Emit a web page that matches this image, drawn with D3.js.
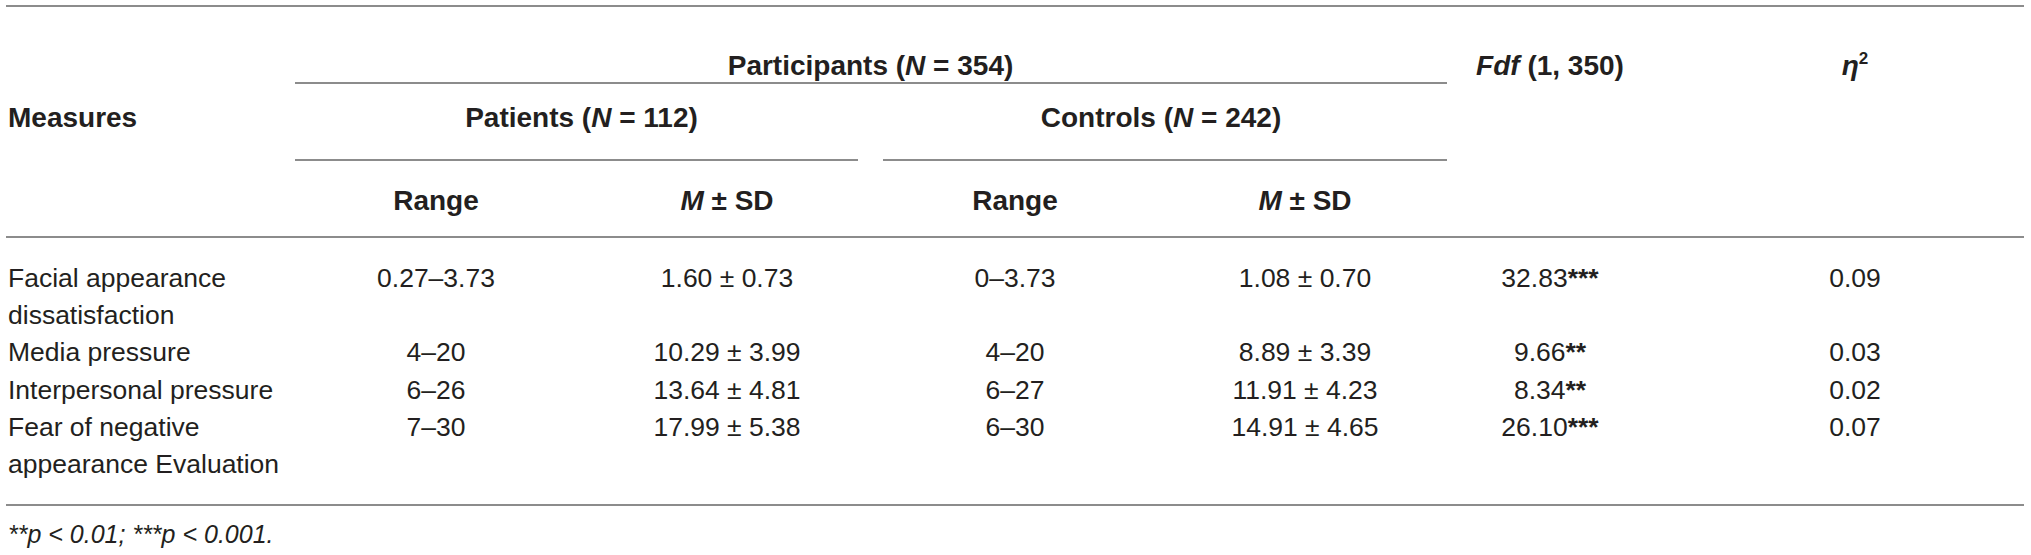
<!DOCTYPE html>
<html>
<head>
<meta charset="utf-8">
<script src="https://cdn.jsdelivr.net/npm/d3@7"></script>
<style>
  body { margin: 0; background: #fff; }
  text { font-family: "Liberation Sans", Arial, Helvetica, sans-serif; fill: #231f20; }
</style>
</head>
<body>
<script>
// table data
const measures = [
    ["Facial appearance", "dissatisfaction"],
    ["Media pressure"],
    ["Interpersonal pressure"],
    ["Fear of negative", "appearance Evaluation"]
];
const patientRange = ["0.27–3.73", "4–20", "6–26", "7–30"];
const patientMean = [1.60, 10.29, 13.64, 17.99];
const patientSD = [0.73, 3.99, 4.81, 5.38];
const controlRange = ["0–3.73", "4–20", "6–27", "6–30"];
const controlMean = [1.08, 8.89, 11.91, 14.91];
const controlSD = [0.70, 3.39, 4.23, 4.65];
const fValues = [32.83, 9.66, 8.34, 26.10];
const fStars = ["***", "**", "**", "***"];
const etaSq = [0.09, 0.03, 0.02, 0.07];

const columns = ["pRange", "pMean", "cRange", "cMean", "f", "eta"];

const width = 2031, height = 555;
const f2 = d3.format(".2f");

const svg = d3.select("body").append("svg")
    .attr("width", width)
    .attr("height", height);

// column centres
const x = d3.scaleOrdinal()
    .domain(columns)
    .range([436, 727, 1015, 1305, 1550, 1855]);
const step = 290;

// body lines (each measure may take two lines)
const lineH = 37.2;
const y = d3.scaleLinear()
    .domain([0, 1])
    .range([287, 287 + lineH]);

let lineIdx = 0;
const rows = measures.map((m, i) => {
    const r = {
        name: m,
        line: lineIdx,
        pRange: patientRange[i],
        pMean: f2(patientMean[i]) + " ± " + f2(patientSD[i]),
        cRange: controlRange[i],
        cMean: f2(controlMean[i]) + " ± " + f2(controlSD[i]),
        f: f2(fValues[i]),
        stars: fStars[i],
        eta: f2(etaSq[i])
    };
    lineIdx += m.length;
    return r;
});

// rules
const rule = (x1, x2, yy) => svg.append("line")
    .attr("x1", x1).attr("x2", x2)
    .attr("y1", yy).attr("y2", yy)
    .attr("stroke", "#8c8c8c")
    .attr("stroke-width", 2);

const leftEdge = x("pRange") - step / 2;
const midEdge = x("pMean") + step / 2;
const rightEdge = x("cMean") + step / 2;

rule(6, 2024, 6);
rule(leftEdge + 4, rightEdge - 3, 83);
rule(leftEdge + 4, midEdge - 14, 160);
rule(midEdge + 11, rightEdge - 3, 160);
rule(6, 2024, 237);
rule(6, 2024, 505);

// header
const hdr = svg.append("g")
    .style("font-size", "28px")
    .style("font-weight", "bold");

function rich(g, xx, yy, parts, anchor) {
    const t = g.append("text")
        .attr("x", xx).attr("y", yy)
        .attr("text-anchor", anchor || "middle");
    parts.forEach(p => {
        const s = t.append("tspan").text(p.t);
        if (p.i) s.style("font-style", "italic");
        if (p.sup) s.attr("dy", -11).style("font-size", "17px");
    });
    return t;
}

rich(hdr, (leftEdge + rightEdge) / 2, 75, [{t: "Participants ("}, {t: "N", i: true}, {t: " = 354)"}]);
rich(hdr, x("f"), 75, [{t: "Fdf", i: true}, {t: " (1, 350)"}]);
rich(hdr, x("eta"), 75, [{t: "η", i: true}, {t: "2", sup: true}]);

rich(hdr, 8, 127, [{t: "Measures"}], "start");
rich(hdr, (leftEdge + midEdge) / 2, 127, [{t: "Patients ("}, {t: "N", i: true}, {t: " = 112)"}]);
rich(hdr, (midEdge + rightEdge) / 2, 127, [{t: "Controls ("}, {t: "N", i: true}, {t: " = 242)"}]);

["pRange", "cRange"].forEach(c => rich(hdr, x(c), 210, [{t: "Range"}]));
["pMean", "cMean"].forEach(c => rich(hdr, x(c), 210, [{t: "M", i: true}, {t: " ± SD"}]));

// body
const body = svg.append("g").style("font-size", "26.5px");

const rowG = body.selectAll("g.row")
    .data(rows)
    .enter().append("g")
    .attr("class", "row");

rowG.each(function(d) {
    const g = d3.select(this);
    d.name.forEach((nm, k) => {
        g.append("text")
            .attr("x", 8)
            .attr("y", y(d.line + k))
            .text(nm);
    });
    ["pRange", "pMean", "cRange", "cMean", "eta"].forEach(c => {
        g.append("text")
            .attr("x", x(c))
            .attr("y", y(d.line))
            .attr("text-anchor", "middle")
            .text(d[c]);
    });
    const ft = g.append("text")
        .attr("x", x("f"))
        .attr("y", y(d.line))
        .attr("text-anchor", "middle");
    ft.append("tspan").text(d.f);
    ft.append("tspan").style("font-weight", "bold").text(d.stars);
});

// footnote
svg.append("text")
    .attr("x", 8)
    .attr("y", 543)
    .style("font-size", "25px")
    .style("font-style", "italic")
    .text("**p < 0.01; ***p < 0.001.");
</script>
</body>
</html>
